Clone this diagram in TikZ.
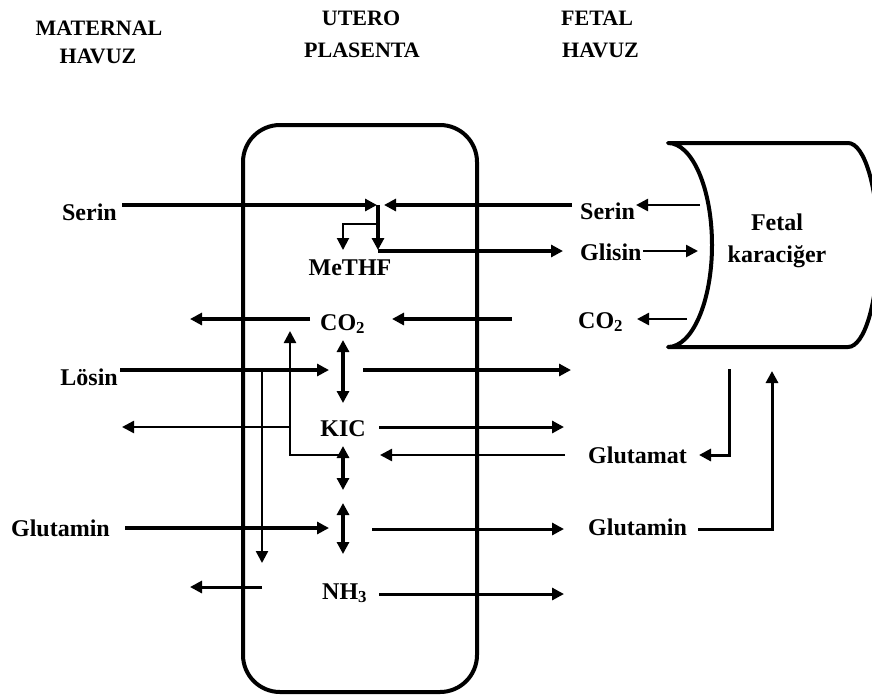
\documentclass[tikz,border=0pt]{standalone}
\usepackage{fontspec}
\setmainfont{Liberation Serif}
\usetikzlibrary{arrows.meta}

\tikzset{
  hdr/.style={font=\fontsize{22}{26}\selectfont\bfseries, inner sep=0pt},
  lbl/.style={font=\fontsize{24}{32}\selectfont\bfseries, inner sep=0pt},
  tip/.style={-{Triangle[length=12pt,width=12pt]}},
  heavy/.style={tip, line width=4pt},
  mid/.style={tip, line width=3pt},
  light/.style={tip, line width=2.5pt},
  both/.style={{Triangle[length=12pt,width=12pt]}-{Triangle[length=12pt,width=12pt]}, line width=4pt}
}

\begin{document}
\begin{tikzpicture}[x=1pt,y=-1pt]
  \useasboundingbox (0,0) rectangle (872,697);

  % column titles
  \node[hdr, anchor=base] (matA) at (99,35) {MATERNAL};
  \node[hdr, anchor=base] (matB) at (98,63) {HAVUZ};
  \node[hdr, anchor=base] (utA) at (361,25) {UTERO};
  \node[hdr, anchor=base] (utB) at (362,57) {PLASENTA};
  \node[hdr, anchor=base west] (fetA) at (561,25) {FETAL};
  \node[hdr, anchor=base west] (fetB) at (562,57) {HAVUZ};

  % placenta box and fetal liver
  \node[draw, line width=4pt, rounded corners=37pt, minimum width=234pt,
        minimum height=567pt, inner sep=0pt] (placenta) at (360,408.5) {};
  \draw[line width=4pt, line join=round]
    (668,143) -- (848,143)
    .. controls (864.6,143) and (878,188.7) .. (878,245)
    .. controls (878,301.3) and (864.6,347) .. (848,347) -- (668,347)
    .. controls (692.3,347) and (712,301.3) .. (712,245)
    .. controls (712,188.7) and (692.3,143) .. cycle;
  \node[lbl, align=center] (liver) at (777,240.5) {Fetal\\karaciğer};

  % labels
  \node[lbl, anchor=base east] (serinL) at (117,220) {Serin};
  \node[lbl, anchor=base east] (loesin) at (118,385) {Lösin};
  \node[lbl, anchor=base east] (glutaminL) at (110,536) {Glutamin};
  \node[lbl, anchor=base] (methf) at (350,275) {MeTHF};
  \node[lbl, anchor=base west] (co2M) at (320,330) {CO\textsubscript{2}};
  \node[lbl, anchor=base] (kic) at (343,436) {KIC};
  \node[lbl, anchor=base west] (nh3) at (322,599) {NH\textsubscript{3}};
  \node[lbl, anchor=base west] (serinR) at (580,219) {Serin};
  \node[lbl, anchor=base west] (glisin) at (580,260) {Glisin};
  \node[lbl, anchor=base west] (co2R) at (578,328) {CO\textsubscript{2}};
  \node[lbl, anchor=base west] (glutamat) at (588,463) {Glutamat};
  \node[lbl, anchor=base west] (glutaminR) at (588,535) {Glutamin};

  % connector ends
  \foreach \n/\x/\y in {sL/122/205, sJl/377/205, sR/572/205, sJr/384/205,
      mTop/378/205, mBot/378/250, bA/378/224, bB/343/224, bC/343/250,
      gA/378/251, gB/563/251, sRa/700/205, sRb/636/205, glA/643/251,
      glB/698/251, cRa/687/319, cRb/637/319, cMa/512/319, cMb/392/319,
      cLa/310/319, cLb/190/319, lL/120/370, lJ/329/370, lRa/363/370,
      lRb/571/370, dAa/343/340, dAb/343/403, vAa/262/370, vAb/262/563,
      vBa/343/455, vBc/290/455, vBb/290/331, kLa/290/427, kLb/122/427,
      kRa/379/427, kRb/564/427, dBa/343/446, dBb/343/490, tRa/565/455,
      tRb/380/455, hAa/729/369, hAc/729/455, hAb/699/455, qL/125/528,
      qJ/329/528, dCa/343/503, dCb/343/554, qRa/372/529, qRb/564/529,
      hBa/698/529, hBc/772/529, hBb/772/371, nLa/262/587, nLb/190/587,
      nRa/379/594, nRb/564/594}
    \coordinate (\n) at (\x,\y);

  % serine / glycine
  \draw[heavy] (sL) -- (sJl);
  \draw[heavy] (sR) -- (sJr);
  \draw[heavy] (mTop) -- (mBot);
  \draw[tip, line width=2pt] (bA) -- (bB) -- (bC);
  \draw[heavy] (gA) -- (gB);
  \draw[light] (sRa) -- (sRb);
  \draw[light] (glA) -- (glB);
  \draw[light] (cRa) -- (cRb);

  % CO2
  \draw[heavy] (cMa) -- (cMb);
  \draw[heavy] (cLa) -- (cLb);

  % leucine / KIC
  \draw[heavy] (lL) -- (lJ);
  \draw[heavy] (lRa) -- (lRb);
  \draw[both] (dAa) -- (dAb);
  \draw[light] (vAa) -- (vAb);
  \draw[light] (vBa) -- (vBc) -- (vBb);
  \draw[light] (kLa) -- (kLb);
  \draw[mid] (kRa) -- (kRb);
  \draw[both] (dBa) -- (dBb);
  \draw[light] (tRa) -- (tRb);
  \draw[mid] (hAa) -- (hAc) -- (hAb);

  % glutamine / NH3
  \draw[heavy] (qL) -- (qJ);
  \draw[both] (dCa) -- (dCb);
  \draw[mid] (qRa) -- (qRb);
  \draw[mid] (hBa) -- (hBc) -- (hBb);
  \draw[mid] (nLa) -- (nLb);
  \draw[mid] (nRa) -- (nRb);
\end{tikzpicture}
\end{document}
